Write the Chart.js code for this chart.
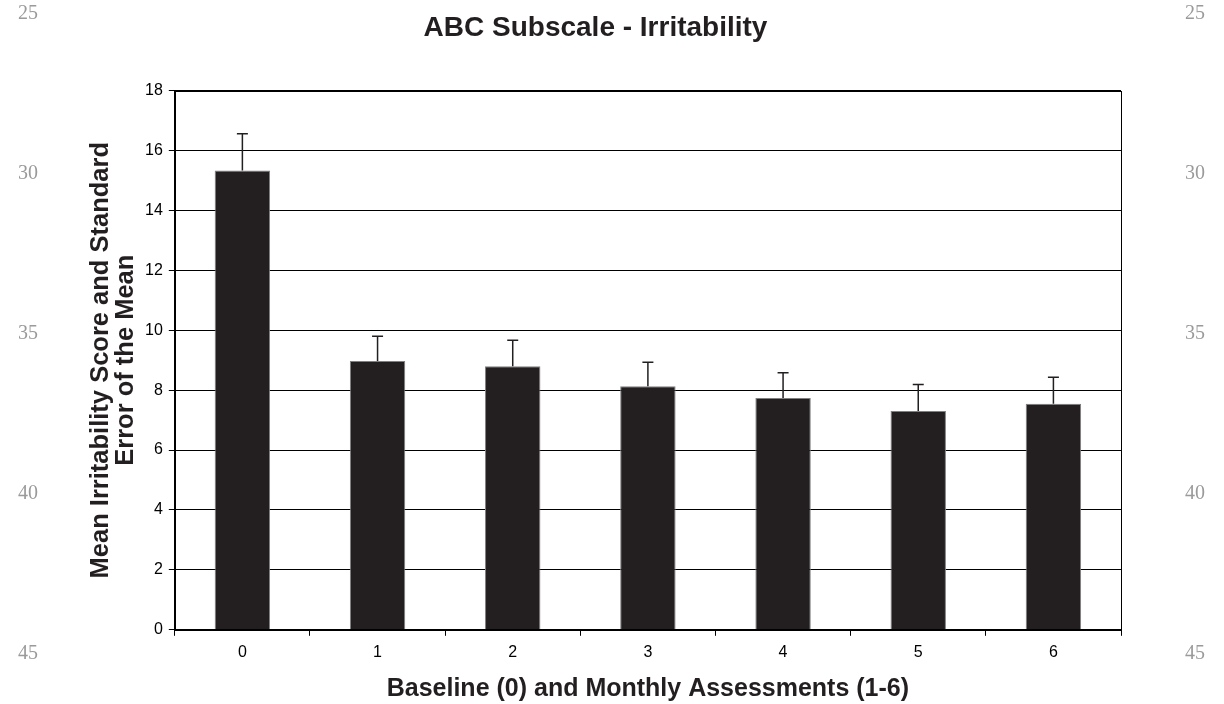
<!DOCTYPE html>
<html>
<head>
<meta charset="utf-8">
<script src="https://cdn.jsdelivr.net/npm/chart.js@4.4.0/dist/chart.umd.min.js"></script>
<style>
  html, body { margin: 0; padding: 0; background: #fff; }
  #wrap { width: 1224px; height: 704px; }
</style>
</head>
<body>
<div id="wrap"><canvas id="abcChart"></canvas></div>
<script>
// Chart data
const assessments = ["0", "1", "2", "3", "4", "5", "6"];
const meanScores = [15.33, 8.97, 8.80, 8.13, 7.74, 7.30, 7.55];
const errorTops = [16.56, 9.80, 9.67, 8.93, 8.58, 8.19, 8.43];
const yTicks = [0, 2, 4, 6, 8, 10, 12, 14, 16, 18];
const lineNumbers = ["25", "30", "35", "40", "45"];

const FONT = "'Liberation Sans', Arial, sans-serif";

// upper whiskers, drawn through the scales
const errorBars = {
  id: "errorBars",
  afterDatasetsDraw(chart) {
    const ctx = chart.ctx;
    const x = chart.scales.x;
    const y = chart.scales.y;
    ctx.save();
    ctx.strokeStyle = "#231f20";
    ctx.lineWidth = 1.5;
    errorTops.forEach(function (top, i) {
      const px = x.getPixelForValue(i);
      const y0 = y.getPixelForValue(meanScores[i]);
      const y1 = y.getPixelForValue(top);
      ctx.beginPath();
      ctx.moveTo(px, y0);
      ctx.lineTo(px, y1);
      ctx.moveTo(px - 5.5, y1);
      ctx.lineTo(px + 5.5, y1);
      ctx.stroke();
    });
    ctx.restore();
  }
};

// plot frame and manuscript line numbers in the margins
const frame = {
  id: "frame",
  afterDraw(chart) {
    const ctx = chart.ctx;
    const a = chart.chartArea;
    ctx.save();
    ctx.strokeStyle = "#000";
    ctx.lineWidth = 1;
    ctx.strokeRect(Math.round(a.left) + 0.5, Math.round(a.top) + 0.5,
      Math.round(a.right - a.left), Math.round(a.bottom - a.top));
    ctx.fillStyle = "#9a9a9a";
    ctx.font = "20px 'Liberation Serif', 'DejaVu Serif', serif";
    ctx.textAlign = "center";
    ctx.textBaseline = "middle";
    lineNumbers.forEach(function (n, i) {
      const yy = 14 + i * 160;
      ctx.fillText(n, 28, yy);
      ctx.fillText(n, 1195, yy);
    });
    ctx.restore();
  }
};

const chartConfig = {
  type: "bar",
  data: {
    labels: assessments,
    datasets: [{
      data: meanScores,
      backgroundColor: "#231f20",
      borderColor: "#808080",
      borderWidth: 1,
      categoryPercentage: 1,
      barPercentage: 0.41
    }]
  },
  options: {
    responsive: true,
    maintainAspectRatio: false,
    animation: false,
    layout: { padding: { left: 70, right: 103, top: 0, bottom: 0 } },
    plugins: {
      legend: { display: false },
      tooltip: { enabled: false },
      title: {
        display: true,
        text: "ABC Subscale - Irritability",
        color: "#231f20",
        font: { family: FONT, size: 28, weight: "bold" },
        padding: { top: 11, bottom: 46 }
      }
    },
    scales: {
      x: {
        offset: true,
        grid: { display: true, drawOnChartArea: false, offset: true, tickLength: 6, color: "#000" },
        border: { color: "#000" },
        ticks: { color: "#000", font: { family: FONT, size: 16 }, padding: 7 },
        title: {
          display: true,
          text: "Baseline (0) and Monthly Assessments (1-6)",
          color: "#231f20",
          font: { family: FONT, size: 25, weight: "bold" },
          padding: { top: 5, bottom: 0 }
        }
      },
      y: {
        min: 0,
        max: 18,
        afterBuildTicks(scale) {
          scale.ticks = yTicks.map(function (v) { return { value: v }; });
        },
        grid: { color: "#000", tickLength: 6 },
        border: { color: "#000" },
        ticks: { color: "#000", font: { family: FONT, size: 16 }, padding: 6 },
        title: {
          display: true,
          text: ["Mean Irritability Score and Standard", "Error of the Mean"],
          color: "#231f20",
          font: { family: FONT, size: 25.5, weight: "bold", lineHeight: 1.0 },
          padding: { top: 18, bottom: 0 }
        }
      }
    }
  },
  plugins: [errorBars, frame]
};

window.abcChart = new Chart(document.getElementById("abcChart"), chartConfig);
</script>
</body>
</html>
